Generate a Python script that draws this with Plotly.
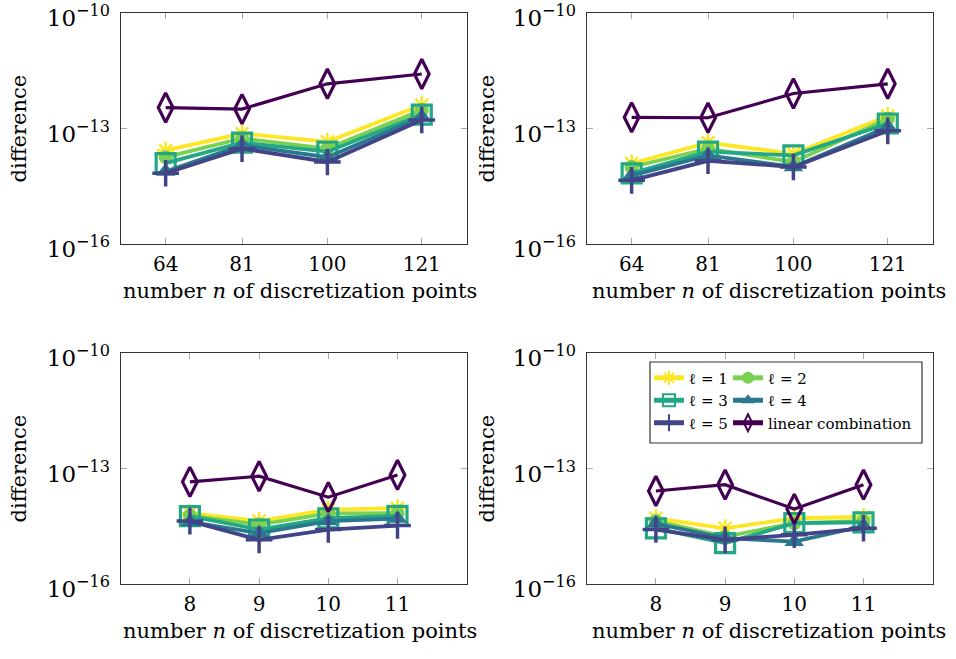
import plotly.graph_objects as go

# ---------------- data ----------------
n_top = [64, 81, 100, 121]
n_bottom = [8, 9, 10, 11]

y_tick_vals = [1e-16, 1e-13, 1e-10]
y_tick_text = ["10<sup>−16</sup>", "10<sup>−13</sup>", "10<sup>−10</sup>"]

series_names = ["ℓ = 1", "ℓ = 2", "ℓ = 3", "ℓ = 4", "ℓ = 5", "linear combination"]

# top-left panel
tl_l1 = [2.7e-14, 7.4e-14, 4.5e-14, 4.1e-13]
tl_l2 = [1.8e-14, 5.5e-14, 3.0e-14, 3.0e-13]
tl_l3 = [1.26e-14, 4.3e-14, 2.5e-14, 2.3e-13]
tl_l4 = [7.6e-15, 3.7e-14, 1.8e-14, 2.0e-13]
tl_l5 = [6.9e-15, 3.0e-14, 1.35e-14, 1.66e-13]
tl_lin = [3.5e-13, 3.2e-13, 1.45e-12, 2.6e-12]

# top-right panel
tr_l1 = [1.23e-14, 4.3e-14, 2.2e-14, 2.1e-13]
tr_l2 = [1.0e-14, 3.0e-14, 1.35e-14, 1.8e-13]
tr_l3 = [6.8e-15, 2.5e-14, 2.0e-14, 1.35e-13]
tr_l4 = [6.0e-15, 2.0e-14, 1.0e-14, 1.1e-13]
tr_l5 = [4.5e-15, 1.45e-14, 1.0e-14, 8.7e-14]
tr_lin = [1.95e-13, 1.9e-13, 8.1e-13, 1.45e-12]

# bottom-left panel
bl_l1 = [6.9e-15, 4.3e-15, 8.5e-15, 9.3e-15]
bl_l2 = [6.0e-15, 3.5e-15, 6.8e-15, 6.9e-15]
bl_l3 = [5.8e-15, 2.6e-15, 5.1e-15, 5.9e-15]
bl_l4 = [4.1e-15, 2.1e-15, 4.3e-15, 5.0e-15]
bl_l5 = [4.3e-15, 1.4e-15, 2.6e-15, 3.3e-15]
bl_lin = [4.5e-14, 6.3e-14, 1.8e-14, 6.8e-14]

# bottom-right panel
br_l1 = [5.1e-15, 2.8e-15, 5.1e-15, 5.5e-15]
br_l2 = [4.3e-15, 1.7e-15, 3.8e-15, 4.3e-15]
br_l3 = [2.8e-15, 1.15e-15, 3.8e-15, 4.0e-15]
br_l4 = [3.7e-15, 1.55e-15, 1.26e-15, 3.2e-15]
br_l5 = [2.6e-15, 1.4e-15, 1.9e-15, 2.8e-15]
br_lin = [2.6e-14, 3.8e-14, 8.9e-15, 3.8e-14]

x_title = "number <i>n</i> of discretization points"
y_title = "difference"

# ---------------- styles ----------------
colors = ["#fde725", "#7ad151", "#22a884", "#2a788e", "#414487", "#440154"]
symbols = ["asterisk-open", "circle", "square-open", "triangle-up", "cross-thin-open", "diamond-tall-open"]
msizes = [15, 14, 19, 17, 19, 21]
mline = [2.5, 0, 3.2, 0, 3.5, 3.2]
lwidths = [3.8, 3.8, 3.8, 3.8, 3.8, 3.2]
legend_of = ["legend", "legend2", "legend", "legend2", "legend", "legend2"]

panels = [
    ("x", "y", n_top, [tl_l1, tl_l2, tl_l3, tl_l4, tl_l5, tl_lin], False),
    ("x2", "y2", n_top, [tr_l1, tr_l2, tr_l3, tr_l4, tr_l5, tr_lin], False),
    ("x3", "y3", n_bottom, [bl_l1, bl_l2, bl_l3, bl_l4, bl_l5, bl_lin], False),
    ("x4", "y4", n_bottom, [br_l1, br_l2, br_l3, br_l4, br_l5, br_lin], True),
]

fig = go.Figure()
for xa, ya, xs, series, show in panels:
    for i, ys in enumerate(series):
        fig.add_trace(go.Scatter(
            x=xs, y=ys, xaxis=xa, yaxis=ya,
            mode="lines+markers",
            name=series_names[i],
            showlegend=show,
            legend=legend_of[i],
            line=dict(color=colors[i], width=lwidths[i]),
            marker=dict(symbol=symbols[i], size=msizes[i], color=colors[i],
                        line=dict(color=colors[i], width=mline[i])),
        ))

W, H = 956, 659
def px_x(p):
    return p / W
def px_y(p):
    return (H - p) / H

col_dom = [[px_x(120.7), px_x(466.7)], [px_x(586.7), px_x(932.7)]]
row_dom = [[px_y(244), px_y(13)], [px_y(584), px_y(353)]]

axis_common = dict(
    showline=True, linecolor="#333333", linewidth=1.2, mirror="ticks",
    ticks="inside", ticklen=6, tickwidth=1.3, tickcolor="#a8a8a8",
    showgrid=False, zeroline=False, automargin=False, ticklabeloverflow="allow",
)

layout_axes = {}
for k, (xa, ya, xs, series, show) in enumerate(panels):
    r, c = divmod(k, 2)
    xname = "xaxis" if xa == "x" else "xaxis" + xa[1:]
    yname = "yaxis" if ya == "y" else "yaxis" + ya[1:]
    xr = [54, 131] if r == 0 else [7, 12]
    layout_axes[xname] = dict(axis_common, domain=col_dom[c], anchor=ya, range=xr,
                              tickvals=xs, ticktext=[str(v) for v in xs],
                              tickfont=dict(family="DejaVu Serif", size=20, color="black"),
                              ticklabelstandoff=2)
    layout_axes[yname] = dict(axis_common, domain=row_dom[r], anchor=xa, type="log",
                              range=[-16, -10], tickvals=y_tick_vals, ticktext=y_tick_text,
                              tickfont=dict(family="DejaVu Serif", size=23, color="black"),
                              ticklabelstandoff=5, ticklabelshift=5)

fig.update_layout(**layout_axes)

annotations = []
title_font = dict(family="DejaVu Serif", size=21, color="black")
for r, yc in enumerate([291, 631]):
    for c, xc in enumerate([300, 769]):
        annotations.append(dict(text=x_title, xref="paper", yref="paper",
                                x=px_x(xc), y=px_y(yc), xanchor="center", yanchor="middle",
                                showarrow=False, font=title_font))
for r, yc in enumerate([128.5, 468.5]):
    for c, xc in enumerate([18, 486]):
        annotations.append(dict(text=y_title, xref="paper", yref="paper",
                                x=px_x(xc), y=px_y(yc), xanchor="center", yanchor="middle",
                                textangle=-90, showarrow=False, font=title_font))

legend_common = dict(xanchor="left", yanchor="top", bgcolor="rgba(0,0,0,0)",
                     borderwidth=0, font=dict(family="DejaVu Serif", size=15, color="black"),
                     itemsizing="constant", tracegroupgap=0, orientation="v")

fig.update_layout(
    width=W, height=H,
    margin=dict(l=0, r=0, t=0, b=0),
    paper_bgcolor="white", plot_bgcolor="white",
    annotations=annotations,
    shapes=[dict(type="rect", xref="paper", yref="paper",
                 x0=px_x(650), x1=px_x(922), y0=px_y(443), y1=px_y(362),
                 line=dict(color="#333333", width=1.2), fillcolor="white", layer="above")],
    legend=dict(legend_common, x=px_x(649), y=px_y(361.5)),
    legend2=dict(legend_common, x=px_x(728), y=px_y(361.5)),
)

fig.write_html("out.html", config={"displayModeBar": False},
               post_script="document.body.style.margin='0';")
